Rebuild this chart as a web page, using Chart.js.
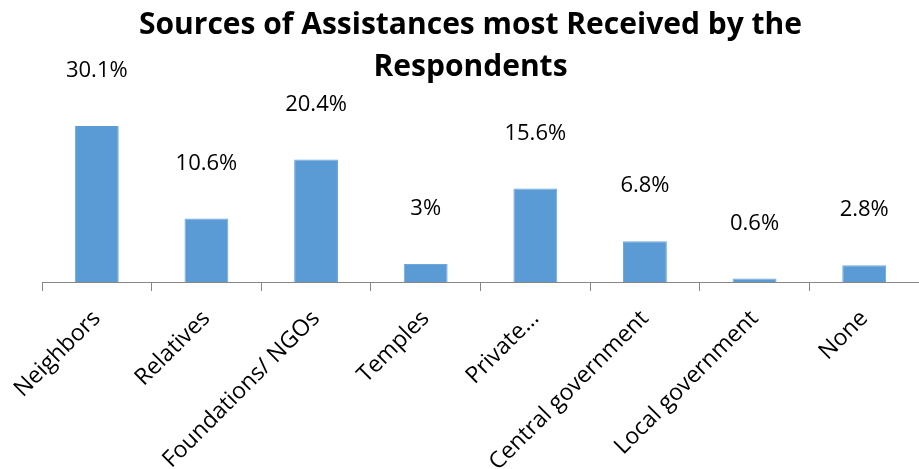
<!DOCTYPE html>
<html>
<head>
<meta charset="utf-8">
<script src="https://cdn.jsdelivr.net/npm/chart.js@4"></script>
<style>
    html, body { margin: 0; padding: 0; background: #fff; }
    #wrap { width: 919px; height: 469px; }
</style>
</head>
<body>
<div id="wrap"><canvas id="assistChart"></canvas></div>
<script>
// Chart data
const categories = [
    "Neighbors",
    "Relatives",
    "Foundations/ NGOs",
    "Temples",
    "Private…",
    "Central government",
    "Local government",
    "None",
];
const percentValues = [30.1, 10.6, 20.4, 3, 15.6, 6.8, 0.6, 2.8];
const titleLines = ["Sources of Assistances most Received by the", "Respondents"];

// Value labels above each bar
const valueLabels = {
    id: "valueLabels",
    afterDatasetsDraw(chart) {
        const { ctx, chartArea } = chart;
        const meta = chart.getDatasetMeta(0);
        ctx.save();
        ctx.font = "22px 'Open Sans'";
        ctx.fillStyle = "#000";
        ctx.textAlign = "center";
        ctx.textBaseline = "middle";
        meta.data.forEach((bar, i) => {
            const top = Math.max(bar.y, chartArea.top);
            ctx.fillText(percentValues[i] + "%", bar.x, top - 55);
        });
        ctx.restore();
    },
};

new Chart(document.getElementById("assistChart"), {
    type: "bar",
    data: {
        labels: categories,
        datasets: [
            {
                data: percentValues,
                backgroundColor: "#5b9bd5",
                borderColor: "#6ea7da",
                borderWidth: 1,
                categoryPercentage: 1,
                barPercentage: 0.4,
            },
        ],
    },
    options: {
        responsive: true,
        maintainAspectRatio: false,
        animation: false,
        layout: { padding: { left: 22, right: 0, top: 0, bottom: 0 } },
        scales: {
            x: {
                grid: {
                    drawOnChartArea: false,
                    color: "#868686",
                    tickLength: 9,
                },
                border: { color: "#868686" },
                ticks: {
                    color: "#000",
                    font: { family: "'Open Sans'", size: 23 },
                    autoSkip: false,
                    minRotation: 45,
                    maxRotation: 45,
                    padding: 14,
                },
                afterFit: (axis) => {
                    axis.height = 187;
                    axis.paddingLeft = 0;
                    axis.paddingRight = 0;
                },
            },
            y: {
                min: 0,
                max: 26,
                grid: { display: false },
                border: { display: false },
                ticks: { display: false },
                afterFit: (axis) => {
                    axis.width = 20;
                },
            },
        },
        plugins: {
            legend: { display: false },
            tooltip: { enabled: false },
            title: {
                display: true,
                text: titleLines,
                color: "#000",
                font: { family: "'Open Sans'", size: 30, weight: "bold", lineHeight: 1.4 },
                padding: { top: 4, bottom: 38 },
            },
        },
    },
    plugins: [valueLabels],
});
</script>
</body>
</html>
